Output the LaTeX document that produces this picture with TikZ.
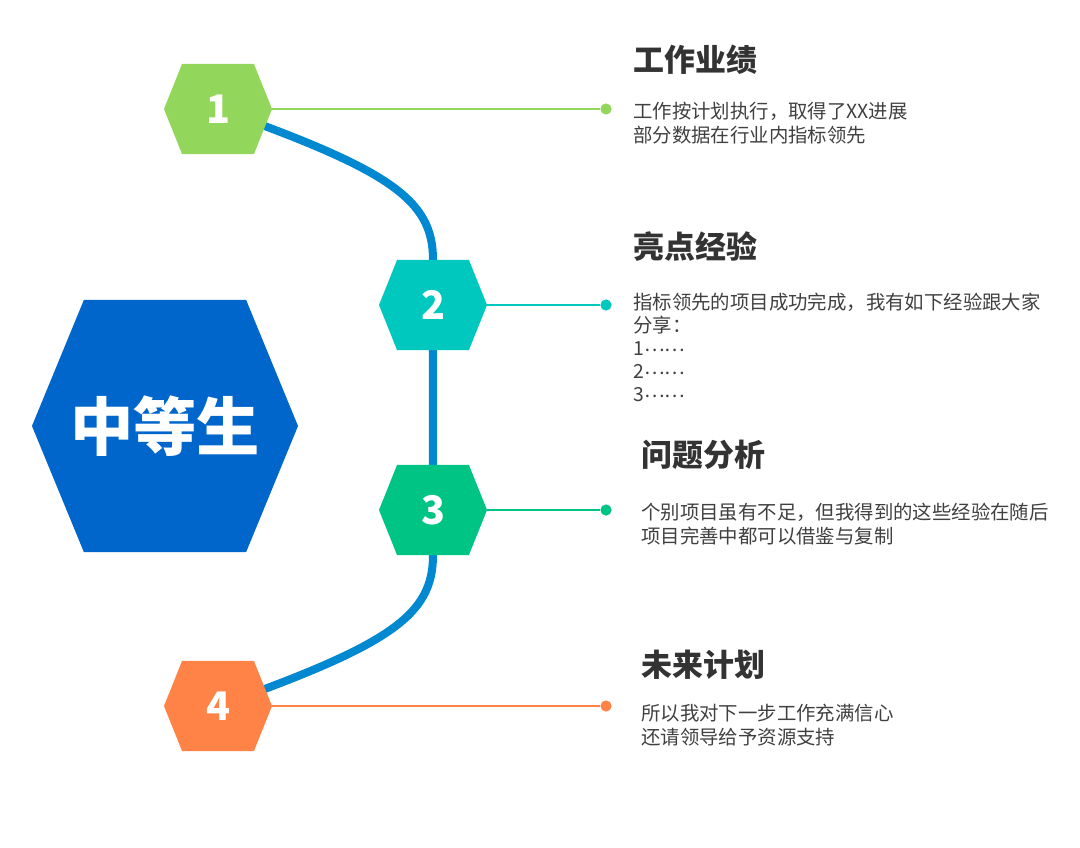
\documentclass[tikz,border=0pt]{standalone}
\usepackage{fontspec}
\setmainfont{Noto Sans CJK SC}
\usetikzlibrary{calc,backgrounds}

\definecolor{midblue}{HTML}{0066CC}
\definecolor{pathblue}{HTML}{0088D0}
\definecolor{stepgreen}{HTML}{92D65C}
\definecolor{stepteal}{HTML}{00C8BE}
\definecolor{stepmint}{HTML}{00C483}
\definecolor{steporange}{HTML}{FF8347}
\definecolor{headgray}{HTML}{333333}
\definecolor{textgray}{HTML}{404040}

\newcommand{\middots}{\raisebox{0.22em}{……}}

\begin{document}
\begin{tikzpicture}[
  x=0.025cm, y=-0.025cm,
  hexa/.style n args={2}{inner sep=0pt, text=white,
    path picture={
      \fill[#1] (path picture bounding box.west)
        -- ($(path picture bounding box.north west)!#2!(path picture bounding box.north east)$)
        -- ($(path picture bounding box.north east)!#2!(path picture bounding box.north west)$)
        -- (path picture bounding box.east)
        -- ($(path picture bounding box.south east)!#2!(path picture bounding box.south west)$)
        -- ($(path picture bounding box.south west)!#2!(path picture bounding box.south east)$)
        -- cycle;}},
  stephex/.style={hexa={#1}{0.167}, minimum width=2.7cm, minimum height=2.25cm,
                  font=\bfseries\fontsize{28}{28}\selectfont},
  dot/.style={circle, fill=#1, inner sep=0pt, minimum size=0.28cm},
  lead/.style={draw=#1, line width=1.4pt},
  headline/.style={anchor=west, inner sep=0pt, text=headgray,
                   font=\bfseries\fontsize{22}{22}\selectfont},
  bodytext/.style={anchor=north west, inner sep=0pt, align=left, text=textgray,
                   font=\fontsize{13.8}{17}\selectfont},
]
  \useasboundingbox (0,0) rectangle (1080,848);

  % centre block
  \node[hexa={midblue}{0.195}, minimum width=6.65cm, minimum height=6.3cm,
        font=\bfseries\fontsize{45}{45}\selectfont] (mid) at (165,426) {中等生};

  % the four steps
  \node[stephex=stepgreen]  (h1) at (218,109) {1};
  \node[stephex=stepteal]   (h2) at (433,305) {2};
  \node[stephex=stepmint]   (h3) at (433,510) {3};
  \node[stephex=steporange] (h4) at (218,706) {4};

  \begin{scope}[on background layer]
    \draw[pathblue, line width=5.7pt]
      (h1.center) .. controls (390,170) and ($(h2.north)+(0,-60)$) .. (h2.north)
      -- (h3.south) .. controls ($(h3.south)+(0,60)$) and (390,645) .. (h4.center);
  \end{scope}

  % end points of the leaders
  \node[dot=stepgreen]  (d1) at (606,109) {};
  \node[dot=stepteal]   (d2) at (606,305) {};
  \node[dot=stepmint]   (d3) at (606,510) {};
  \node[dot=steporange] (d4) at (606,706) {};

  \draw[lead=stepgreen]  (h1) -- (d1);
  \draw[lead=stepteal]   (h2) -- (d2);
  \draw[lead=stepmint]   (h3) -- (d3);
  \draw[lead=steporange] (h4) -- (d4);

  % texts
  \node[headline] (t1) at (633,60)  {工作业绩};
  \node[bodytext] (b1) at (633,102) {工作按计划执行，取得了XX进展\\部分数据在行业内指标领先};
  \node[headline] (t2) at (633,247) {亮点经验};
  \node[bodytext, font=\fontsize{13.8}{16.3}\selectfont] (b2) at (633,293)
    {指标领先的项目成功完成，我有如下经验跟大家\\分享：\\1\middots\\2\middots\\3\middots};
  \node[headline] (t3) at (641,455) {问题分析};
  \node[bodytext] (b3) at (641,503) {个别项目虽有不足，但我得到的这些经验在随后\\项目完善中都可以借鉴与复制};
  \node[headline] (t4) at (641,665) {未来计划};
  \node[bodytext] (b4) at (641,704) {所以我对下一步工作充满信心\\还请领导给予资源支持};
\end{tikzpicture}
\end{document}
